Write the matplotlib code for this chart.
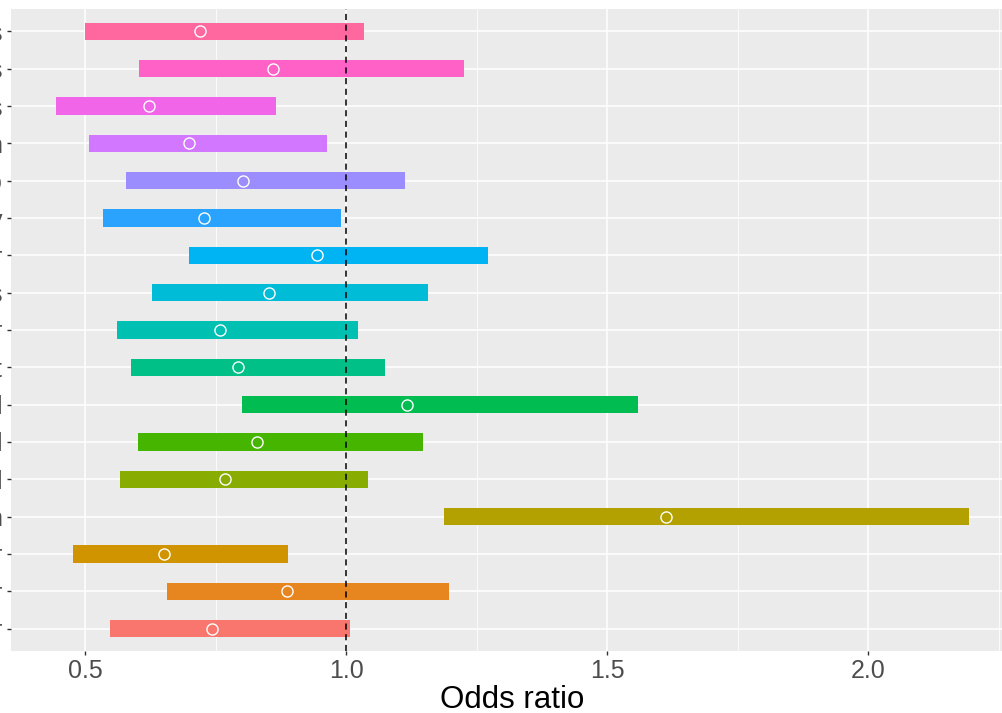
import numpy as np
import matplotlib
matplotlib.use("Agg")
import matplotlib.pyplot as plt
from matplotlib.ticker import MultipleLocator

plt.rcParams["font.family"] = ["Liberation Sans", "DejaVu Sans"]

# rows from bottom (first level) to top; y labels are cut off in the source image
labels = ["r", "r", "r", "n", "l", "l", "l", "t", "r", "s", "r", "y", "o", "n", "s", "s", "s"]
lower = [0.548, 0.657, 0.477, 1.188, 0.567, 0.602, 0.801, 0.588, 0.561, 0.628,
         0.699, 0.534, 0.579, 0.508, 0.444, 0.603, 0.500]
upper = [1.008, 1.197, 0.889, 2.193, 1.042, 1.148, 1.559, 1.075, 1.023, 1.157,
         1.272, 0.990, 1.113, 0.964, 0.866, 1.226, 1.034]
odds = [0.743, 0.887, 0.651, 1.613, 0.768, 0.830, 1.117, 0.793, 0.759, 0.852,
        0.944, 0.728, 0.803, 0.699, 0.623, 0.860, 0.720]


def hue_pal(n, c=100, l=65):
    # ggplot2 default discrete palette (polar Luv -> sRGB)
    hues = np.linspace(15, 375, n + 1)[:n]
    xn, yn, zn = 95.047, 100.0, 108.883
    un = 4 * xn / (xn + 15 * yn + 3 * zn)
    vn = 9 * yn / (xn + 15 * yn + 3 * zn)
    out = []
    for h in hues:
        u = c * np.cos(np.radians(h))
        v = c * np.sin(np.radians(h))
        y = yn * (((l + 16) / 116) ** 3 if l > 8 else l / 903.3)
        up = u / (13 * l) + un
        vp = v / (13 * l) + vn
        x = y * 9 * up / (4 * vp)
        z = y * (12 - 3 * up - 20 * vp) / (4 * vp)
        x, y, z = x / 100, y / 100, z / 100
        r = 3.2404542 * x - 1.5371385 * y - 0.4985314 * z
        g = -0.9692660 * x + 1.8760108 * y + 0.0415560 * z
        b = 0.0556434 * x - 0.2040259 * y + 1.0572252 * z
        rgb = []
        for ch in (r, g, b):
            ch = 12.92 * ch if ch <= 0.0031308 else 1.055 * ch ** (1 / 2.4) - 0.055
            rgb.append(min(max(ch, 0), 1))
        out.append(tuple(rgb))
    return out


colors = hue_pal(len(labels))
ypos = np.arange(len(labels))

fig = plt.figure(figsize=(10.03, 7.13), dpi=100)
ax = fig.add_axes([11 / 1003, 1 - 651 / 713, 1002 / 1003, 642 / 713])
ax.set_facecolor("#EBEBEB")

ax.barh(ypos, np.array(upper) - np.array(lower), left=lower, height=0.46,
        color=colors, zorder=2)
ax.axvline(1.0, color="black", lw=1.1, ls=(0, (4, 3)), zorder=3)
ax.plot(odds, ypos, "o", ms=8, mfc="none", mec="white", mew=1.0, zorder=4)

ax.set_xlim(0.358, 2.277)
ax.set_ylim(-0.6, len(labels) - 0.4)
ax.xaxis.set_minor_locator(MultipleLocator(0.25))
ax.set_xticks([0.5, 1.0, 1.5, 2.0])
ax.set_xticklabels(["0.5", "1.0", "1.5", "2.0"])
ax.set_yticks(ypos)
ax.set_yticklabels(labels)

ax.grid(which="major", color="white", lw=1.1, zorder=1)
ax.grid(which="minor", axis="x", color="white", lw=0.55, zorder=1)
ax.set_axisbelow(True)
for s in ax.spines.values():
    s.set_visible(False)

ax.tick_params(axis="x", which="major", length=3, width=1, color="#333333",
               labelsize=18, labelcolor="#4D4D4D", pad=3)
ax.tick_params(axis="x", which="minor", length=0)
ax.tick_params(axis="y", length=3, width=1, color="#333333",
               labelsize=18, labelcolor="#4D4D4D", pad=3.5)
ax.set_xlabel("Odds ratio", fontsize=22.5, labelpad=1)

fig.savefig("out.png", dpi=100)
